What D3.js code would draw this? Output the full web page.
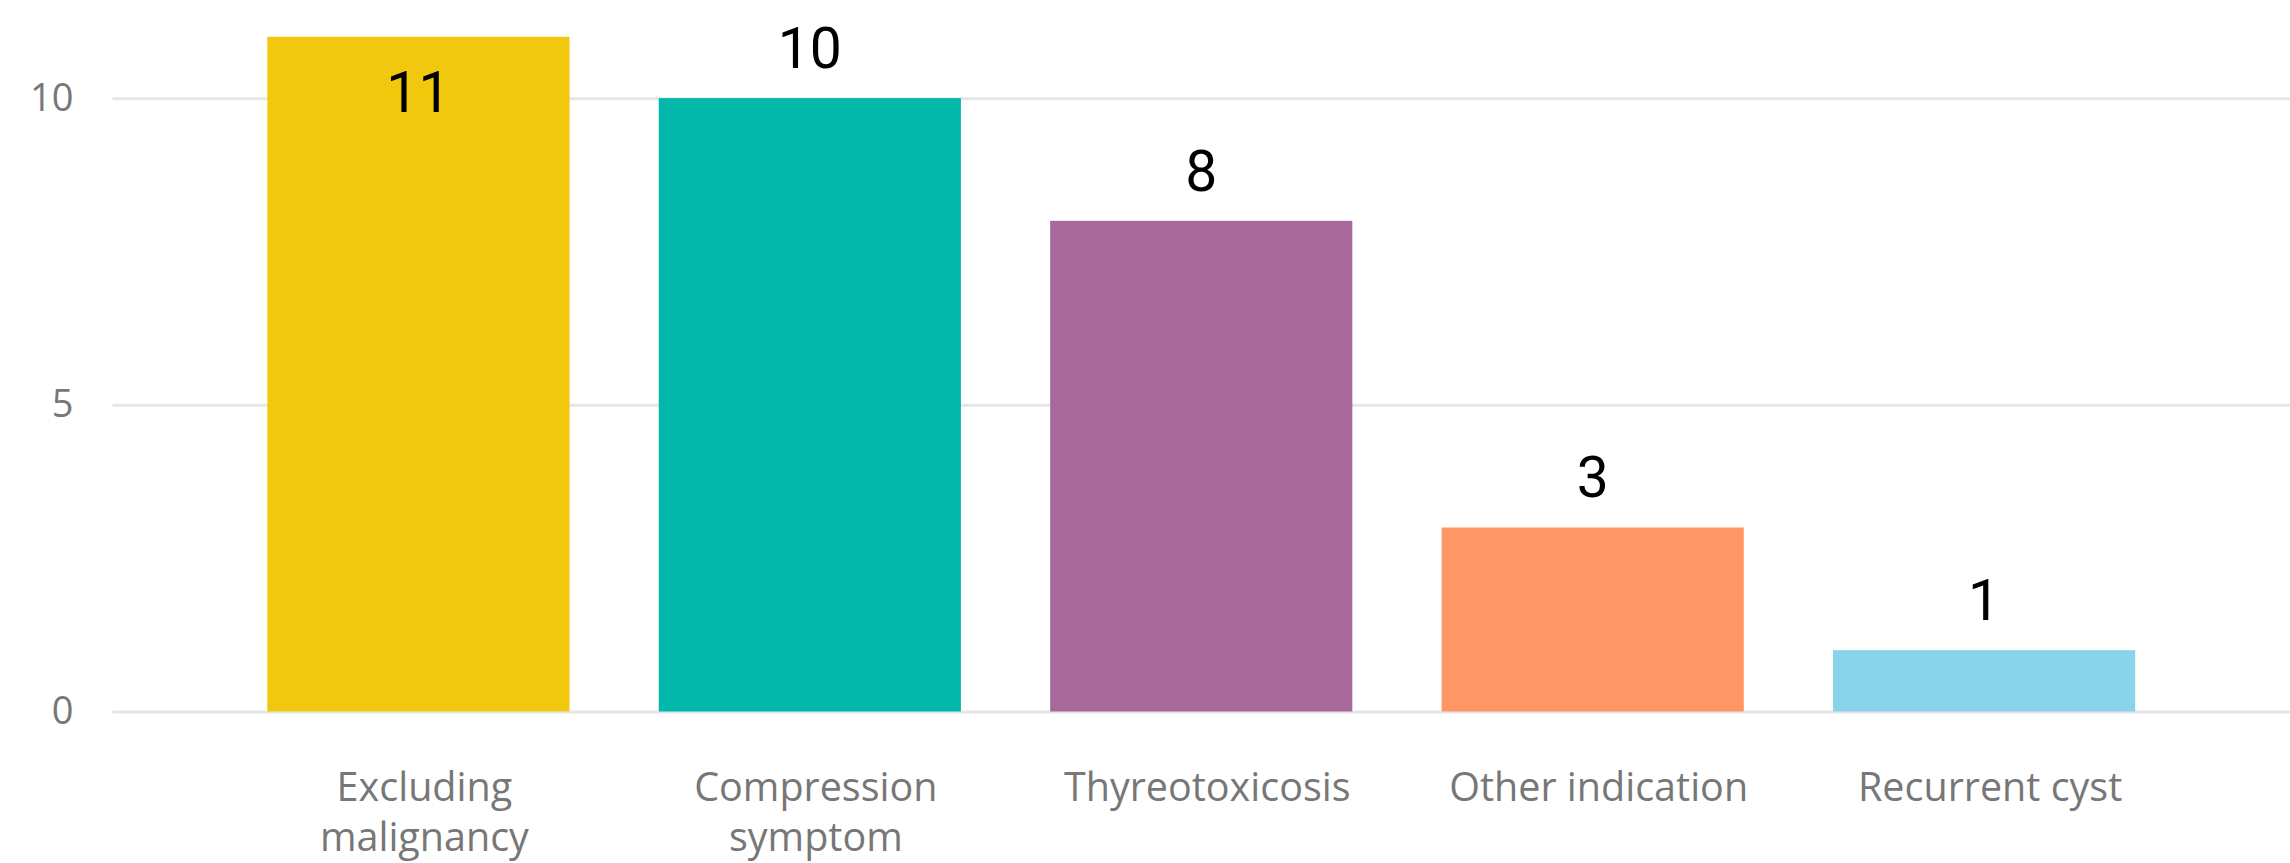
<!DOCTYPE html>
<html>
<head>
<meta charset="utf-8">
<script src="https://cdn.jsdelivr.net/npm/d3@7"></script>
<style>
  body { margin: 0; background: #fff; }
  svg { display: block; }
</style>
</head>
<body>
<div id="chart"></div>
<script>
// data
var categories = ["Excluding malignancy", "Compression symptom", "Thyreotoxicosis", "Other indication", "Recurrent cyst"];
var counts = [11, 10, 8, 3, 1];
var barColors = ["#F2C80F", "#01B8AA", "#A66999", "#FE9666", "#8AD4EB"];
var yTicks = [0, 5, 10];

var W = 2290, H = 863;
var margin = { top: 0, right: 0, bottom: 151.5, left: 112.5 },
    width = W - margin.left - margin.right,
    height = H - margin.top - margin.bottom;

var svg = d3.select("#chart")
    .append("svg")
    .attr("width", W)
    .attr("height", H)
    .append("g")
    .attr("transform", "translate(" + margin.left + "," + margin.top + ")");

var x = d3.scaleBand()
    .domain(categories)
    .range([0, width])
    .paddingInner(0.228)
    .paddingOuter(0.3955);

var y = d3.scaleLinear()
    .domain([0, 11.6])
    .range([height, 0]);

// gridlines + y labels
var yAxis = svg.append("g")
    .call(d3.axisLeft(y).tickValues(yTicks).tickSize(-width).tickPadding(39).tickFormat(d3.format("d")));
yAxis.select(".domain").remove();
yAxis.selectAll(".tick line")
    .attr("stroke", "#E6E6E6")
    .attr("stroke-width", 3);
yAxis.selectAll(".tick text")
    .attr("fill", "#777")
    .attr("font-family", "'Open Sans', sans-serif")
    .attr("font-size", 38);

// bars
svg.selectAll("rect.bar")
    .data(categories)
    .enter()
    .append("rect")
    .attr("class", "bar")
    .attr("x", function (d) { return x(d); })
    .attr("width", x.bandwidth())
    .attr("y", function (d, i) { return y(counts[i]); })
    .attr("height", function (d, i) { return y(0) - y(counts[i]); })
    .attr("fill", function (d, i) { return barColors[i]; });

// data labels - inside the bar when there's no room on top
svg.selectAll("text.val")
    .data(categories)
    .enter()
    .append("text")
    .attr("class", "val")
    .attr("x", function (d) { return x(d) + x.bandwidth() / 2; })
    .attr("y", function (d, i) {
        var top = y(counts[i]);
        return top - 30 < 45 ? top + 75 : top - 30;
    })
    .attr("text-anchor", "middle")
    .attr("font-family", "Roboto, sans-serif")
    .attr("font-size", 57)
    .attr("fill", "#000")
    .text(function (d, i) { return counts[i]; });

// x axis labels
var xAxis = svg.append("g")
    .attr("transform", "translate(0," + height + ")")
    .call(d3.axisBottom(x).tickSize(0).tickPadding(0));
xAxis.select(".domain").remove();
xAxis.selectAll(".tick text")
    .attr("dy", null)
    .attr("fill", "#777")
    .attr("font-family", "'Open Sans', sans-serif")
    .attr("font-size", 39.5)
    .call(wrap, x.step() * 0.85);

function wrap(texts, maxW) {
    texts.each(function () {
        var text = d3.select(this),
            words = text.text().split(/\s+/),
            line = [],
            lineNo = 0,
            tspan = text.text(null).append("tspan").attr("x", 6).attr("y", 89);
        words.forEach(function (w) {
            line.push(w);
            tspan.text(line.join(" "));
            if (tspan.node().getComputedTextLength() > maxW && line.length > 1) {
                line.pop();
                tspan.text(line.join(" "));
                line = [w];
                lineNo++;
                tspan = text.append("tspan").attr("x", 6).attr("y", 89 + lineNo * 50).text(w);
            }
        });
    });
}
</script>
</body>
</html>
